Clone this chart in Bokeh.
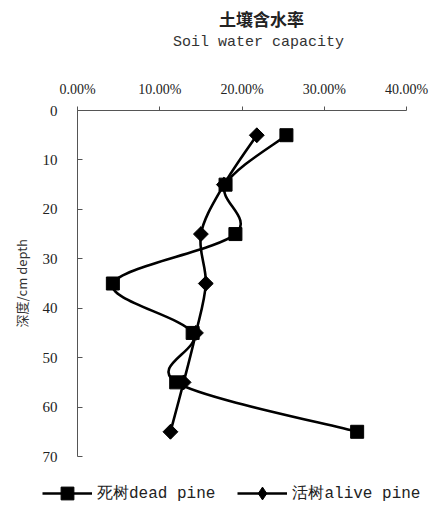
import numpy as np
from bokeh.plotting import figure
from bokeh.models import Range1d, FixedTicker, Label, Legend, LegendItem, ColumnDataSource
from bokeh.embed import file_html
from bokeh.resources import INLINE

# ---- data ----
depth = [5, 15, 25, 35, 45, 55, 65]
dead_pine = [25.4, 18.0, 19.2, 4.3, 14.0, 12.0, 34.0]
alive_pine = [21.8, 17.8, 15.0, 15.6, 14.4, 12.9, 11.3]
x_ticks = [0, 10, 20, 30, 40]
x_tick_labels = ["0.00%", "10.00%", "20.00%", "30.00%", "40.00%"]
y_ticks = [0, 10, 20, 30, 40, 50, 60, 70]
title_cn = "土壤含水率"
title_en = "Soil water capacity"
y_label = "深度/cm depth"
dead_label = "死树dead pine"
alive_label = "活树alive pine"


def smooth(xs, ys):
    """Catmull-Rom style Bezier control points (smoothed line, as in the source)."""
    px = [xs[0]] + list(xs) + [xs[-1]]
    py = [ys[0]] + list(ys) + [ys[-1]]
    d = dict(x0=[], y0=[], x1=[], y1=[], cx0=[], cy0=[], cx1=[], cy1=[])
    for i in range(len(xs) - 1):
        d["x0"].append(px[i + 1]); d["y0"].append(py[i + 1])
        d["x1"].append(px[i + 2]); d["y1"].append(py[i + 2])
        d["cx0"].append(px[i + 1] + (px[i + 2] - px[i]) / 6)
        d["cy0"].append(py[i + 1] + (py[i + 2] - py[i]) / 6)
        d["cx1"].append(px[i + 2] - (px[i + 3] - px[i + 1]) / 6)
        d["cy1"].append(py[i + 2] - (py[i + 3] - py[i + 1]) / 6)
    return ColumnDataSource(d)


mono = "Liberation Mono"

# layout: the frame covers the whole canvas; axes are bounded to the data span
# and fixed at x = 0 / depth = 0.
W, H = 438, 509
ORIGIN_X, ORIGIN_Y = 77, 110        # pixel position of (0 %, 0 cm)
PX_PER_PCT = 8.225                  # 330 px for 40 %
PX_PER_CM = 4.943                   # 346 px for 70 cm

p = figure(frame_width=W, frame_height=H, output_backend="svg", toolbar_location=None,
           x_range=Range1d(-ORIGIN_X / PX_PER_PCT, (W - ORIGIN_X) / PX_PER_PCT),
           y_range=Range1d((H - ORIGIN_Y) / PX_PER_CM, -ORIGIN_Y / PX_PER_CM),
           x_axis_location="above", title=None, min_border=0)
p.outline_line_color = None
p.grid.visible = False

# x axis (top, fixed at depth 0)
xa = p.xaxis[0]
xa.fixed_location = y_ticks[0]
xa.bounds = (x_ticks[0], x_ticks[-1])
xa.ticker = FixedTicker(ticks=x_ticks)
xa.major_label_overrides = {t: l for t, l in zip(x_ticks, x_tick_labels)}
xa.minor_tick_line_color = None
xa.major_tick_in = 0
xa.major_tick_out = 4
xa.axis_line_color = "#555555"
xa.major_tick_line_color = "#555555"
xa.major_label_text_font = "Liberation Serif"
xa.major_label_text_font_size = "14px"
xa.major_label_text_color = "#222222"
xa.major_label_standoff = 10

# y axis (left, fixed at x = 0)
ya = p.yaxis[0]
ya.fixed_location = x_ticks[0]
ya.bounds = (y_ticks[0], y_ticks[-1])
ya.ticker = FixedTicker(ticks=y_ticks)
ya.minor_tick_line_color = None
ya.major_tick_in = 5
ya.major_tick_out = 0
ya.axis_line_color = "#555555"
ya.major_tick_line_color = "#555555"
ya.major_label_text_font = "Liberation Serif"
ya.major_label_text_font_size = "15px"
ya.major_label_text_color = "#222222"
ya.major_label_standoff = 20
ya.axis_label = y_label
ya.axis_label_text_font = "Noto Sans CJK SC"
ya.axis_label_text_font_size = "13px"
ya.axis_label_text_font_style = "normal"
ya.axis_label_text_color = "#333333"
ya.axis_label_standoff = 9

# titles
p.add_layout(Label(x=261, y=H - 18, x_units="screen", y_units="screen", text=title_cn,
                   text_font="Noto Sans CJK SC", text_font_size="17px",
                   text_font_style="bold", text_color="#222222",
                   text_align="center", text_baseline="middle"))
p.add_layout(Label(x=258, y=H - 42, x_units="screen", y_units="screen", text=title_en,
                   text_font=mono, text_font_size="15px", text_color="#333333",
                   text_align="center", text_baseline="middle"))

# series
dead_src = smooth(dead_pine, depth)
alive_src = smooth(alive_pine, depth)
r_dead_line = p.bezier(x0="x0", y0="y0", x1="x1", y1="y1", cx0="cx0", cy0="cy0",
                       cx1="cx1", cy1="cy1", source=dead_src, line_color="black", line_width=2.6)
r_alive_line = p.bezier(x0="x0", y0="y0", x1="x1", y1="y1", cx0="cx0", cy0="cy0",
                        cx1="cx1", cy1="cy1", source=alive_src, line_color="black", line_width=2.6)
r_dead_pts = p.scatter(dead_pine, depth, marker="square", size=13, color="black")
# diamond used for the legend key; the wider rotated square on top matches the source shape
r_alive_key = p.scatter(alive_pine, depth, marker="diamond", size=14, color="black")
p.scatter(alive_pine, depth, marker="square", size=10.5, angle=np.pi / 4, color="black")

legend = Legend(items=[LegendItem(label=dead_label, renderers=[r_dead_line, r_dead_pts]),
                       LegendItem(label=alive_label, renderers=[r_alive_line, r_alive_key])],
                orientation="horizontal", location=(42, 0),
                glyph_width=50, glyph_height=32, label_standoff=5, spacing=22,
                padding=0, margin=0,
                label_text_font=mono, label_text_font_size="16px",
                label_text_color="#222222",
                border_line_color=None, background_fill_alpha=0)
p.add_layout(legend)

open("out.html", "w").write(file_html(p, INLINE))
